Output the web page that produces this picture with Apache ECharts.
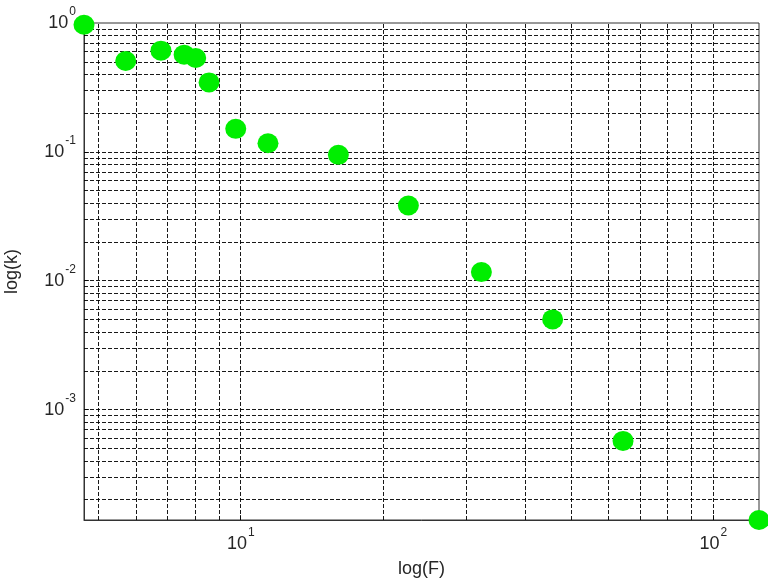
<!DOCTYPE html>
<html>
<head>
<meta charset="utf-8">
<script src="https://cdn.jsdelivr.net/npm/echarts@6/dist/echarts.min.js"></script>
<style>
html,body{margin:0;padding:0;background:#fff;}
#chart{width:768px;height:583px;}
</style>
</head>
<body>
<div id="chart"></div>
<script>
// Data (log-log scatter)
var F = [4.66, 5.71, 6.78, 7.59, 8.03, 8.57, 9.76, 11.42, 16.09, 22.63, 32.30, 45.7, 64.4, 124.9];
var k = [0.97, 0.507, 0.610, 0.568, 0.535, 0.346, 0.1508, 0.1166, 0.0948, 0.03835, 0.01166, 0.00501, 0.000571, 0.000139];

// Axis ranges and grid-line tick values
var xRange = [4.66, 124.9];
var yRange = [0.000139, 1];
var xGrid = [5, 6, 7, 8, 9, 10, 20, 30, 40, 50, 60, 70, 80, 90, 100];
var yGrid = [0.0002, 0.0003, 0.0004, 0.0005, 0.0006, 0.0007, 0.0008, 0.0009,
             0.001, 0.002, 0.003, 0.004, 0.005, 0.006, 0.007, 0.008, 0.009,
             0.01, 0.02, 0.03, 0.04, 0.05, 0.06, 0.07, 0.08, 0.09,
             0.1, 0.2, 0.3, 0.4, 0.5, 0.6, 0.7, 0.8, 0.9];
var xName = 'log(F)';
var yName = 'log(k)';

var chart = echarts.init(document.getElementById('chart'), null, {renderer: 'canvas'});

function powLabel(v) {
  var e = Math.log10(v);
  var r = Math.round(e);
  if (Math.abs(e - r) > 1e-6) return '';
  return '{b|10}{s|' + r + '}';
}
var FONT = 'Liberation Sans, Arial, sans-serif';
var rich = {
  b: {fontSize: 18, fontFamily: FONT, color: '#262626', lineHeight: 18},
  s: {fontSize: 12, fontFamily: FONT, color: '#262626', padding: [0, 0, 22, 1]}
};

var points = F.map(function (x, i) { return [x, k[i]]; });

var option = {
  animation: false,
  backgroundColor: '#ffffff',
  grid: {left: 84, right: 9, top: 23, bottom: 63, containLabel: false, outerBoundsMode: 'none',
         show: true, borderColor: '#333', borderWidth: 1, backgroundColor: '#fff'},
  xAxis: {
    type: 'log', logBase: 10, min: xRange[0], max: xRange[1],
    name: xName, nameLocation: 'middle', nameGap: 40,
    nameTextStyle: {fontSize: 18, fontFamily: FONT, color: '#262626'},
    axisLine: {show: true, lineStyle: {color: '#333', width: 1}},
    axisTick: {show: true, inside: true, length: 5, lineStyle: {color: '#333'}},
    axisLabel: {formatter: powLabel, rich: rich, margin: 7, showMinLabel: true, showMaxLabel: true},
    splitLine: {show: false}
  },
  yAxis: {
    type: 'log', logBase: 10, min: yRange[0], max: yRange[1],
    name: yName, nameLocation: 'middle', nameGap: 63, nameRotate: 90,
    nameTextStyle: {fontSize: 18, fontFamily: FONT, color: '#262626'},
    axisLine: {show: true, lineStyle: {color: '#333', width: 1}},
    axisTick: {show: true, inside: true, length: 5, lineStyle: {color: '#333'}},
    axisLabel: {formatter: powLabel, rich: rich, margin: 8, showMinLabel: true, showMaxLabel: true},
    splitLine: {show: false}
  },
  series: [
    {
      type: 'scatter', z: 5, clip: false,
      symbol: 'circle', symbolSize: [21, 20],
      itemStyle: {color: '#00ee00', opacity: 1},
      data: points,
      markLine: {
        z: 1, silent: true, symbol: ['none', 'none'], animation: false, precision: 12,
        label: {show: false},
        lineStyle: {color: '#000', width: 1, type: [4, 2], opacity: 0.9},
        emphasis: {disabled: true},
        data: xGrid.map(function (v) { return {xAxis: v}; })
          .concat(yGrid.map(function (v) { return {yAxis: v}; }))
      }
    }
  ]
};
chart.setOption(option);
</script>
</body>
</html>
